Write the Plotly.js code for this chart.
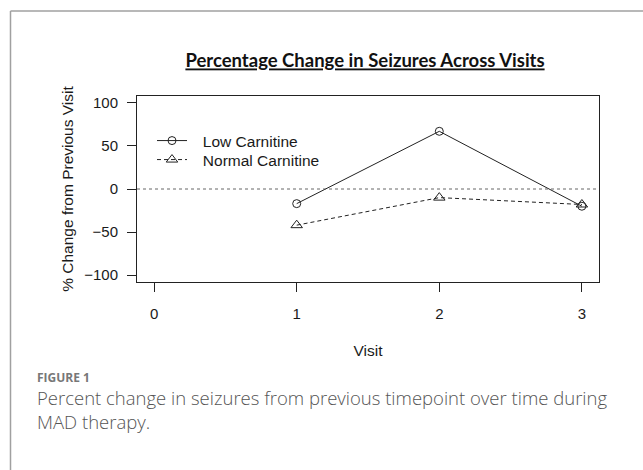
<!DOCTYPE html>
<html>
<head>
<meta charset="utf-8">
<script src="https://cdn.plot.ly/plotly-3.0.1.min.js"></script>
<style>
  html, body { margin: 0; padding: 0; background: #fff; }
  #chart { width: 643px; height: 470px; }
</style>
</head>
<body>
<div id="chart"></div>
<script>
// ---- data ----
const visits = [1, 2, 3];
const lowCarnitine = [-17, 67, -20];
const normalCarnitine = [-42, -10, -18];
const seriesNames = ["Low Carnitine", "Normal Carnitine"];
const xTickVals = [0, 1, 2, 3];
const yTickVals = [-100, -50, 0, 50, 100];
const yTickText = ["\u2212100", "\u221250", "0", "50", "100"];
const refLineY = 0;
const chartTitle = "Percentage Change in Seizures Across Visits";
const xTitle = "Visit";
const yTitle = "% Change from Previous Visit";
const figLabel = "FIGURE 1";
const captionLines = ["Percent change in seizures from previous timepoint over time during", "MAD therapy."];

// ---- layout geometry ----
const W = 643, H = 470;
const M = { l: 137, r: 44, t: 96, b: 188 };
const PW = W - M.l - M.r, PH = H - M.t - M.b;
const px = x => (x - M.l) / PW;
const py = y => (H - M.b - y) / PH;

const tickFont = { family: "Liberation Sans, Arial, sans-serif", size: 15, color: "#1a1a1a" };
const titleFont = { family: "Liberation Sans, Arial, sans-serif", size: 15.5, color: "#1a1a1a" };
const legendFont = { family: "Liberation Sans, Arial, sans-serif", size: 15.5, color: "#1a1a1a" };
const ink = "#222";
const legendPad = "\u2002\u2009";

const traces = [
  {
    x: visits, y: lowCarnitine, name: legendPad + seriesNames[0], type: "scatter", mode: "lines+markers",
    legend: "legend",
    line: { color: ink, width: 1 },
    marker: { symbol: "circle-open", size: 8, color: ink, line: { width: 1 } }
  },
  {
    x: visits, y: normalCarnitine, name: legendPad + seriesNames[1], type: "scatter", mode: "lines+markers",
    legend: "legend2",
    line: { color: ink, width: 1, dash: "4px,3px" },
    marker: { symbol: "triangle-up-open", size: 10, color: ink, line: { width: 1 } }
  }
];

const frameColor = "#a0a0a0";
const legendBase = {
  xanchor: "left", yanchor: "middle",
  bgcolor: "rgba(0,0,0,0)", borderwidth: 0,
  font: legendFont, itemwidth: 30
};

const layout = {
  width: W, height: H,
  margin: M,
  paper_bgcolor: "#fff", plot_bgcolor: "#fff",
  showlegend: true,
  title: {
    text: '<span style="text-decoration:underline">' + chartTitle + '</span>',
    font: { family: "Lato, Carlito, sans-serif", size: 18.5, color: "#111", weight: 700 },
    x: px(365), xanchor: "center", xref: "paper",
    y: 1 - 61 / H, yanchor: "middle", yref: "container"
  },
  legend: Object.assign({}, legendBase, { x: px(152), y: py(141) }),
  legend2: Object.assign({}, legendBase, { x: px(152), y: py(160) }),
  xaxis: {
    range: [-0.12, 3.12], tickvals: xTickVals, ticks: "outside", ticklen: 9, tickcolor: ink,
    showgrid: false, zeroline: false, showline: true, mirror: true, linecolor: ink, linewidth: 1,
    tickfont: tickFont, ticklabelstandoff: 9,
    title: { text: xTitle, font: titleFont, standoff: 24 }
  },
  yaxis: {
    range: [-108, 108], tickvals: yTickVals, ticktext: yTickText, ticks: "outside", ticklen: 9, tickcolor: ink,
    showgrid: false, zeroline: false, showline: true, mirror: true, linecolor: ink, linewidth: 1,
    tickfont: tickFont, ticklabelstandoff: 6,
    title: { text: yTitle, font: titleFont, standoff: 6 }
  },
  shapes: [
    { type: "line", xref: "paper", yref: "y", x0: 0, x1: 1, y0: refLineY, y1: refLineY,
      line: { color: "#666", width: 1, dash: "dot" } },
    // outer figure frame (left + top)
    { type: "line", xref: "paper", yref: "paper", x0: px(10.5), x1: px(10.5), y0: py(11), y1: py(H + 5),
      line: { color: frameColor, width: 1.5 } },
    { type: "line", xref: "paper", yref: "paper", x0: px(10.5), x1: px(W + 5), y0: py(11), y1: py(11),
      line: { color: frameColor, width: 1.5 } }
  ],
  annotations: [
    { text: "<b>" + figLabel + "</b>", xref: "paper", yref: "paper", x: px(35), y: py(377),
      xanchor: "left", yanchor: "middle", showarrow: false,
      font: { family: "Open Sans, sans-serif", size: 12, color: "#777" } },
    { text: captionLines.join("<br>"), xref: "paper", yref: "paper", x: px(35), y: py(383),
      xanchor: "left", yanchor: "top", align: "left", showarrow: false,
      font: { family: "Open Sans, sans-serif", size: 18.5, color: "#555", weight: 300 } }
  ]
};

Plotly.newPlot("chart", traces, layout, { displayModeBar: false, staticPlot: true });
</script>
</body>
</html>
